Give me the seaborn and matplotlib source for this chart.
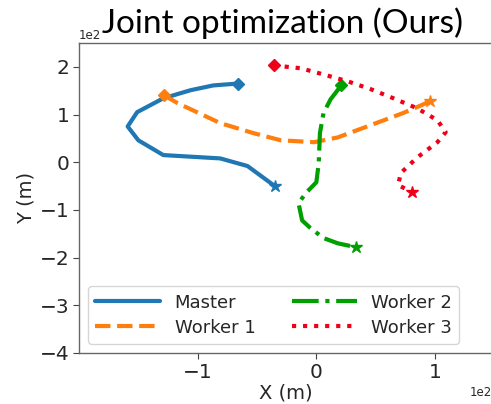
import matplotlib
matplotlib.use("Agg")
import matplotlib.pyplot as plt
import seaborn as sns
import pandas as pd

# Trajectories (metres); each path starts at the diamond and ends at the star
master_x = [-66, -87, -106, -129, -151, -159, -150, -129, -81, -58, -35]
master_y = [165, 161, 151, 134, 105, 75, 46, 15, 8, -8, -50]

worker1_x = [-128, -117, -81, -53, -30, -2, 18, 46, 73, 88, 96]
worker1_y = [140, 124, 82, 61, 46, 42, 52, 78, 103, 119, 128]

worker2_x = [21, 12, 6, 3, 2.5, 2, 0, -9, -15, -12, -5, 6, 18, 33]
worker2_y = [161, 132, 103, 61, 29, -2, -42, -65, -86, -122, -138, -159, -170, -178]

worker3_x = [-36, -13, 6, 26, 46, 65, 85, 102, 109, 102, 85, 71, 69, 81]
worker3_y = [203, 197, 184, 170, 153, 134, 113, 88, 63, 42, 10, -23, -48, -63]

names = ["Master", "Worker 1", "Worker 2", "Worker 3"]
colors = ["#1f77b4", "#ff7f0e", "#00a000", "#ee0018"]
styles = ["-", "--", "-.", ":"]

series = {
    "Master": (master_x, master_y),
    "Worker 1": (worker1_x, worker1_y),
    "Worker 2": (worker2_x, worker2_y),
    "Worker 3": (worker3_x, worker3_y),
}

sns.set_style("ticks")
plt.rcParams["font.family"] = ["DejaVu Sans"]

W, H, DPI = 491, 404, 100
fig = plt.figure(figsize=(W / DPI, H / DPI), dpi=DPI)
ax = fig.add_axes([79 / W, (H - 353) / H, 413 / W, 310 / H])

for name, color, ls in zip(names, colors, styles):
    xs, ys = series[name]
    df = pd.DataFrame({"x": xs, "y": ys})
    sns.lineplot(data=df, x="x", y="y", sort=False, estimator=None,
                 color=color, linestyle=ls, linewidth=3, label=name, ax=ax)
    ax.plot(xs[0], ys[0], marker="D", markersize=6, color=color, linestyle="none")
    ax.plot(xs[-1], ys[-1], marker="*", markersize=9, color=color, linestyle="none")

ax.set_xlim(-200, 148)
ax.set_ylim(-400, 250)
ax.set_xticks([-100, 0, 100])
ax.set_yticks([-400, -300, -200, -100, 0, 100, 200])
ax.ticklabel_format(style="sci", axis="both", scilimits=(0, 0))
ax.tick_params(labelsize=14.5, color="#444444", length=4, pad=3)
ax.xaxis.get_offset_text().set_fontsize(8.5)
ax.yaxis.get_offset_text().set_fontsize(8.5)
ax.set_xlabel("X (m)", fontsize=14, labelpad=1)
ax.set_ylabel("Y (m)", fontsize=14, labelpad=3)
for sp in ax.spines.values():
    sp.set_color("#666666")
    sp.set_linewidth(1.0)

ax.legend(loc="lower left", ncol=2, fontsize=13, handlelength=3.6,
          columnspacing=2.0, labelspacing=0.4, framealpha=0.8)

# Title, scaled to its target width
title = fig.text(282 / W, 1 - 23 / H, "Joint optimization (Ours)",
                 family=["Lato", "DejaVu Sans"], fontsize=26,
                 ha="center", va="center", color="black")
fig.canvas.draw()
bb = title.get_window_extent()
title.set_fontsize(26 * 360 / bb.width)

fig.savefig("out.png", dpi=DPI)
